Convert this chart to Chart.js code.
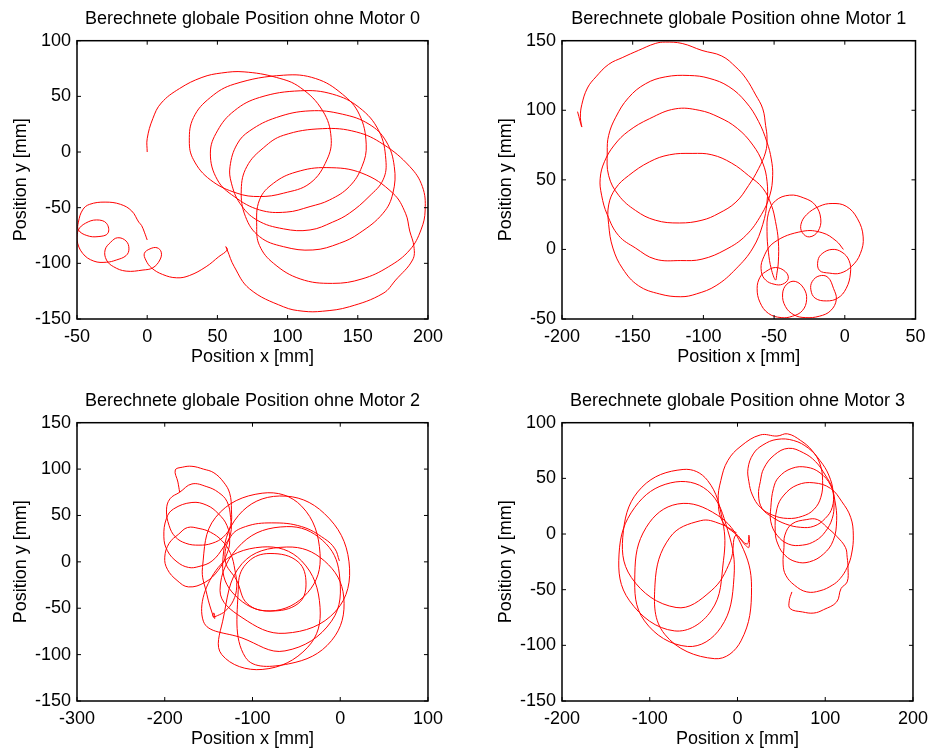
<!DOCTYPE html>
<html>
<head>
<meta charset="utf-8">
<script src="https://cdn.jsdelivr.net/npm/chart.js@4.4.1/dist/chart.umd.min.js"></script>
<style>
  html, body { margin: 0; padding: 0; background: #fff; overflow: hidden; }
  body { width: 933px; height: 751px; position: relative; }
  canvas { position: absolute; }
</style>
</head>
<body>
<canvas id="c0" width="450" height="369" style="left:0px;top:0px"></canvas>
<canvas id="c1" width="450" height="369" style="left:485px;top:0px"></canvas>
<canvas id="c2" width="450" height="369" style="left:0px;top:382px"></canvas>
<canvas id="c3" width="450" height="369" style="left:485px;top:382px"></canvas>
<script>
const titles = [
  'Berechnete globale Position ohne Motor 0',
  'Berechnete globale Position ohne Motor 1',
  'Berechnete globale Position ohne Motor 2',
  'Berechnete globale Position ohne Motor 3'
]
const xLabel = 'Position x [mm]'
const yLabel = 'Position y [mm]'

const xTicks0 = [-50, 0, 50, 100, 150, 200]
const yTicks0 = [-150, -100, -50, 0, 50, 100]
const xTicks1 = [-200, -150, -100, -50, 0, 50]
const yTicks1 = [-50, 0, 50, 100, 150]
const xTicks2 = [-300, -200, -100, 0, 100]
const yTicks2 = [-150, -100, -50, 0, 50, 100, 150]
const xTicks3 = [-200, -100, 0, 100, 200]
const yTicks3 = [-150, -100, -50, 0, 50, 100]

// [x, y] in mm, in drawing order
const pathMotor0 = [
  [0,0],[0,12],[4,30],[10,44],[23,57],[39,67],[53,71],
  [69,72],[92,67],[109,58],[125,37],[131,13],[128,-7],[116,-28],[97,-37],[80,-40],[64,-37],[45,-25],[33,-7],[30,10],[33,31],[45,49],[62,61],
  [97,69],[120,66],[139,52],[151,34],[156,7],[153,-13],[144,-31],[130,-43],[116,-49],[99,-54],[80,-52],[62,-40],[50,-25],[45,-1],[50,19],[62,37],[80,49],
  [109,55],[132,52],[151,40],[165,19],[170,-7],[168,-25],[158,-40],[144,-55],[132,-63],[116,-70],[97,-69],[78,-61],[66,-46],[60,-28],[59,-13],[64,7],[73,19],[92,31],
  [116,37],[139,34],[158,25],[170,10],[176,-13],[175,-37],[168,-55],[151,-73],[137,-82],[118,-88],[97,-85],[80,-76],[70,-58],[67,-34],[71,-13],[83,4],[97,15],
  [125,21],[149,18],[168,7],[187,-13],[196,-31],[198,-52],[195,-70],[187,-88],[172,-103],[153,-114],[132,-118],[109,-114],[90,-100],[80,-84],[78,-67],[80,-43],[90,-28],[106,-18],
  [128,-14],[153,-19],[175,-37],[184,-55],[187,-71],[190,-85],[189,-97],[177,-115],[168,-127],[144,-139],[125,-143],[111,-143],[97,-139],[73,-123],[62,-103],[57,-88],[56,-85],[57,-88],
  [51,-94],[42,-103],[30,-111],[21,-113],[11,-110],[3,-104],[-1,-97],[-2,-91],[2,-87],[7,-86],[10,-90],[9,-97],[4,-104],[-3,-106],[-15,-107],[-24,-103],[-29,-97],[-30,-88],[-26,-81],[-21,-77],[-15,-80],[-13,-87],[-15,-93],[-22,-97],[-29,-99],[-38,-98],[-46,-91],[-50,-79],[-49,-70],
  [-44,-64],[-36,-61],[-29,-64],[-28,-73],[-35,-76],[-43,-75],[-49,-70],
  [-49,-63],[-46,-52],[-41,-47],[-30,-45],[-19,-47],[-11,-53],[-6,-63],[-4,-66],[-2,-72],[0,-79]
]

const pathMotor1 = [
  [-189,99],[-186,88],[-187,95],[-186,104],[-182,116],[-176,124],[-167,133],[-157,138],[-146,143],[-134,148],[-127,149],[-115,148],[-101,143],[-87,139],[-77,131],[-70,123],[-63,111],[-58,101],[-56,89],[-55,80],[-56,70],[-61,58],[-68,46],[-77,34],[-89,26],[-101,21],[-117,19],[-134,21],[-148,28],[-160,39],[-167,53],[-168,70],[-167,82],[-162,95],[-153,109],[-141,119],[-127,124],[-110,125],[-96,123],[-82,117],[-70,106],[-61,92],
  [-55,77],[-52,65],[-51,53],[-53,39],[-59,25],[-70,10],[-84,0],[-101,-7],[-116,-8],[-134,-7],[-148,1],[-160,10],[-168,25],[-172,39],[-173,51],[-170,63],[-163,75],[-153,85],[-138,94],[-120,101],[-103,100],[-89,95],[-76,87],[-65,75],[-58,62],[-55,49],[-55,34],[-58,18],[-65,1],[-77,-14],[-91,-26],[-105,-32],[-116,-34],[-131,-32],[-146,-26],[-157,-14],[-164,1],[-167,18],[-167,32],[-162,44],[-153,53],[-138,63],[-124,68],[-108,69],[-94,68],[-80,62],[-68,53],[-58,44],[-52,32],[-49,20],[-47,6],[-47,-9],[-48,-17],[-49,-22],
  [-52,-14],[-54,-2],[-55,13],[-54,26],[-49,35],[-39,39],[-29,37],[-21,32],[-17,22],[-19,13],[-25,9],[-30,12],[-31,18],[-27,25],[-18,31],[-9,33],[1,31],[9,22],[13,9],[11,-3],[5,-12],[-3,-17],[-11,-17],[-18,-15],[-19,-8],[-16,-3],[-9,0],[-2,-2],[3,-8],[4,-17],[1,-28],[-5,-35],[-13,-37],[-21,-35],[-24,-29],[-23,-23],[-18,-19],[-12,-20],[-8,-28],[-6,-36],[-10,-44],[-18,-48],[-28,-49],[-36,-47],[-42,-41],[-44,-32],[-41,-25],[-35,-23],[-29,-28],[-27,-36],[-30,-44],[-37,-48],[-45,-49],[-54,-46],[-60,-38],[-62,-28],[-60,-20],[-56,-16],[-49,-13],[-42,-16],[-40,-21],[-44,-25],[-50,-25],[-56,-22],[-59,-16],[-58,-7],[-50,5],[-30,13],[-16,12],[-6,6],[-1,0]
]

const pathMotor2 = [
  [-183,75],[-185,86],[-188,99],[-180,102],[-169,103],[-156,100],[-144,96],[-133,86],[-126,74],[-124,56],[-125,39],[-133,27],[-146,20],[-161,18],[-176,20],[-188,27],[-195,39],[-198,56],[-194,68],[-183,75],
  [-169,84],[-152,81],[-139,75],[-129,65],[-125,48],[-125,30],[-133,16],[-146,1],[-161,-5],[-173,-6],[-186,0],[-197,12],[-201,27],[-198,47],[-190,57],
  [-169,64],[-152,61],[-139,52],[-129,39],[-126,23],[-129,9],[-139,-9],[-154,-22],[-173,-27],[-186,-20],[-197,-8],[-200,5],[-195,20],[-184,30],
  [-174,37],[-161,36],[-148,32],[-135,23],[-125,9],[-120,-9],[-118,-27],[-122,-42],[-131,-53],[-140,-58],
  [-145,-59],[-144,-55],[-143,-61],[-145,-58],[-152,-35],
  [-157,-6],[-142,48],[-89,74],[-44,60],[-23,9],[-37,-33],[-80,-53],[-120,-36],
  [-134,-2],[-116,50],[-69,71],[-18,52],[10,0],[-5,-53],[-63,-77],[-112,-60],
  [-137,-31],[-112,20],[-61,38],[-20,23],[-1,-13],[-10,-64],[-63,-96],[-112,-82],
  [-156,-64],[-139,-6],[-89,16],[-44,1],[-23,-49],[-37,-92],[-89,-116],[-135,-100],
  [-134,-64],[-112,-2],[-61,16],[-18,1],[4,-38],[-10,-85],[-59,-110],[-108,-103],
  [-116,-24],[-105,0],[-80,9],[-48,0],[-39,-24],[-48,-45],[-80,-53],[-106,-45],
  [-118,-20],[-131,1],[-125,27],[-108,38],[-78,42],[-44,38],[-18,25],[-6,14],[-1,1]
]

const pathMotor3 = [
  [-1,1],[-19,9],[-42,12],[-77,-3],[-94,-45],[-83,-90],[-26,-112],[4,-96],[16,-48],[4,-9],[-23,17],
  [-68,27],[-104,6],[-117,-36],[-106,-78],[-57,-101],[-19,-84],[-4,-39],[-11,3],[-34,39],
  [-76,46],[-117,24],[-135,-18],[-123,-60],[-72,-87],[-30,-69],[-16,-24],[-17,12],[-34,48],
  [-62,58],[-109,42],[-130,3],[-121,-39],[-70,-66],[-30,-51],[-8,-24],[-2,-1],
  [9,-10],[13,-12],[13,-1],[11,-9],[-2,0],
  [-17,11],[-22,30],[-19,48],[-11,66],[4,79],[26,89],
  [45,88],[57,90],[72,84],[85,75],[94,63],[97,48],[95,33],[87,22],[74,16],[57,14],[40,17],[26,24],[17,35],[13,47],[12,59],[18,72],[29,80],[45,85],
  [64,84],[81,77],[94,66],[104,53],[109,38],[108,24],[100,14],[87,7],[72,6],[55,9],[40,15],[28,23],[24,35],[26,47],[30,59],[42,71],[58,77],
  [75,73],[89,65],[100,53],[108,41],[110,27],[108,14],[100,2],[89,-6],[74,-10],[58,-9],[45,-1],[38,11],[38,24],[41,41],[47,51],[62,59],[79,60],
  [94,55],[106,44],[111,30],[113,12],[109,-6],[98,-18],[82,-25],[67,-25],[54,-19],[46,-9],[43,2],[45,23],[53,35],[68,44],[87,46],
  [106,41],[119,29],[129,15],[132,-1],[130,-18],[125,-30],[117,-40],[108,-46],[94,-51],[79,-52],[65,-46],[55,-37],[52,-27],[53,-12],[54,-1],[62,9],
  [79,13],[91,13],[102,6],[113,-2],[123,-12],[125,-21],[126,-31],[125,-43],[118,-49],[113,-61],[98,-68],[87,-71],[74,-70],[60,-67],[59,-60],[62,-52]
]

const FONT = { family: "'Liberation Sans', Arial, sans-serif", size: 18 }

// MATLAB style box with inward ticks on all four sides
const boxPlugin = {
  id: 'matlabBox',
  afterDraw(chart) {
    const { ctx, chartArea: a, scales: { x, y } } = chart
    ctx.save()
    ctx.strokeStyle = '#000'
    ctx.lineWidth = 1
    ctx.beginPath()
    x.ticks.forEach(t => {
      const px = x.getPixelForValue(t.value)
      ctx.moveTo(px, a.bottom); ctx.lineTo(px, a.bottom - 4)
      ctx.moveTo(px, a.top); ctx.lineTo(px, a.top + 4)
    })
    y.ticks.forEach(t => {
      const py = y.getPixelForValue(t.value)
      ctx.moveTo(a.left, py); ctx.lineTo(a.left + 4, py)
      ctx.moveTo(a.right, py); ctx.lineTo(a.right - 4, py)
    })
    ctx.stroke()
    ctx.lineWidth = 1.5
    ctx.strokeRect(a.left, a.top, a.right - a.left, a.bottom - a.top)
    ctx.restore()
  }
}

function axis(ticks, label, isX) {
  return {
    type: 'linear',
    min: ticks[0],
    max: ticks[ticks.length - 1],
    afterBuildTicks: s => { s.ticks = ticks.map(v => ({ value: v })) },
    afterFit: s => { if (isX) s.height = 50; else s.width = 77 },
    grid: { display: false, drawTicks: false },
    border: { display: false },
    ticks: { color: '#000', font: FONT, padding: isX ? 7 : 6, autoSkip: false, maxRotation: 0 },
    title: {
      display: true, text: label, color: '#000', font: FONT,
      padding: isX ? { top: 0, bottom: 1 } : { top: 10, bottom: 0 }
    }
  }
}

function makePanel(id, title, path, xTicks, yTicks) {
  new Chart(document.getElementById(id), {
    type: 'scatter',
    data: {
      datasets: [{
        data: path.map(([x, y]) => ({ x, y })),
        showLine: true,
        borderColor: '#ff0000',
        borderWidth: 1,
        pointRadius: 0,
        tension: 0.4
      }]
    },
    options: {
      responsive: false,
      animation: false,
      events: [],
      layout: { padding: { top: 0, left: 0, right: 19.5, bottom: 0 } },
      plugins: {
        legend: { display: false },
        tooltip: { enabled: false },
        title: {
          display: true, text: title, color: '#000', font: { ...FONT, weight: 'normal' },
          fullSize: false, padding: { top: 8.7, bottom: 10.4 }
        }
      },
      scales: { x: axis(xTicks, xLabel, true), y: axis(yTicks, yLabel, false) }
    },
    plugins: [boxPlugin]
  })
}

makePanel('c0', titles[0], pathMotor0, xTicks0, yTicks0)
makePanel('c1', titles[1], pathMotor1, xTicks1, yTicks1)
makePanel('c2', titles[2], pathMotor2, xTicks2, yTicks2)
makePanel('c3', titles[3], pathMotor3, xTicks3, yTicks3)
</script>
</body>
</html>
